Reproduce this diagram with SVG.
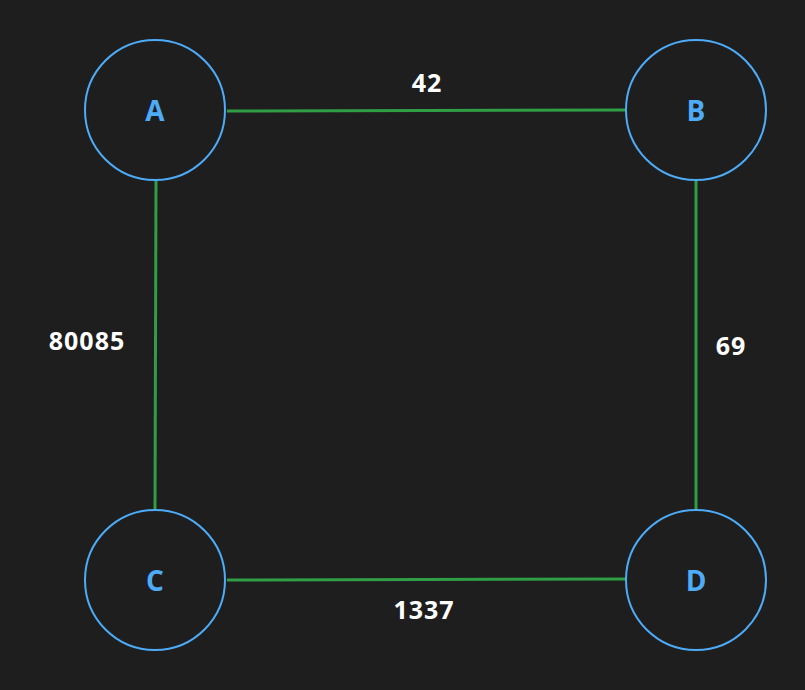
<svg xmlns="http://www.w3.org/2000/svg" width="805" height="690" viewBox="0 0 805 690">
<style>
.n{fill:none;stroke:#4dabf7;stroke-width:2}
.nt{fill:#4dabf7;font-family:"Open Sans",sans-serif;font-size:28px;font-weight:bold;text-anchor:middle;dominant-baseline:central}
.e{stroke:#2f9e44;stroke-width:3;fill:none}
.l{fill:#ffffff;font-family:"Open Sans",sans-serif;font-size:25px;font-weight:bold;letter-spacing:1px;text-anchor:middle;dominant-baseline:central}
</style>
<rect width="805" height="690" fill="#1e1e1e"/>
<g id="edges">
<line class="e" x1="227" y1="111" x2="626" y2="110"/>
<line class="e" x1="156" y1="181" x2="155" y2="510"/>
<line class="e" x1="696" y1="181" x2="696" y2="510"/>
<line class="e" x1="227" y1="580" x2="626" y2="579"/>
<text class="l" x="427" y="82">42</text>
<text class="l" x="87" y="340">80085</text>
<text class="l" x="731" y="345">69</text>
<text class="l" x="424" y="609">1337</text>
</g>
<g id="A"><circle class="n" cx="155" cy="110" r="70"/><text class="nt" x="155" y="110">A</text></g>
<g id="B"><circle class="n" cx="696" cy="110" r="70"/><text class="nt" x="696" y="110">B</text></g>
<g id="C"><circle class="n" cx="155" cy="580" r="70"/><text class="nt" x="155" y="580">C</text></g>
<g id="D"><circle class="n" cx="696" cy="580" r="70"/><text class="nt" x="696" y="580">D</text></g>
</svg>
